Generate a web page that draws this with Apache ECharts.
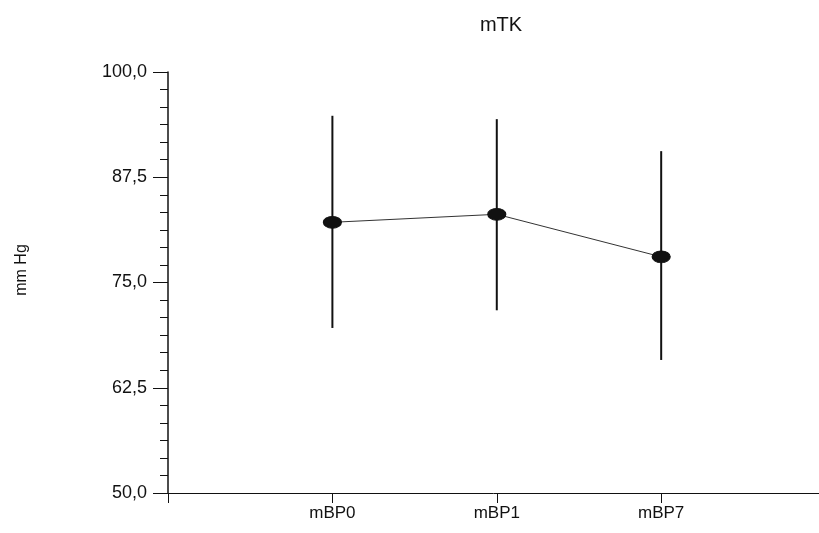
<!DOCTYPE html>
<html><head><meta charset="utf-8">
<script src="https://cdn.jsdelivr.net/npm/echarts@6/dist/echarts.min.js"></script>
<style>html,body{margin:0;padding:0;background:#fff}#c{width:819px;height:533px}</style>
</head><body><div id="c"></div>
<script>
var categories = ['mBP0', 'mBP1', 'mBP7'];
var positions = [1, 2, 3];
var means = [82.15, 83.1, 78.05];
var upper = [94.8, 94.4, 90.6];
var lower = [69.6, 71.7, 65.8];
var yTicks = [50, 62.5, 75, 87.5, 100];
var chartTitle = 'mTK';
var yName = 'mm Hg';

var chart = echarts.init(document.getElementById('c'));
var lineData = positions.map(function (p, i) { return [p, means[i]]; });
var errData = positions.map(function (p, i) { return [p, lower[i], upper[i]]; });
var sans = 'Liberation Sans';
chart.setOption({
  animation: false,
  backgroundColor: '#fff',
  title: { text: chartTitle, left: 496, top: 10, textAlign: 'center',
    textStyle: { fontFamily: sans, fontSize: 20, fontWeight: 'normal', color: '#111' } },
  graphic: [
    { type: 'text', x: 22, y: 270, rotation: Math.PI / 2,
      style: { text: yName, fontFamily: sans, fontSize: 16, fill: '#111', align: 'center', verticalAlign: 'middle' } }
  ],
  grid: { left: 168, right: 0, top: 72, bottom: 40 },
  xAxis: {
    type: 'value', min: 0, max: 3.96,
    axisLine: { lineStyle: { color: '#111', width: 1 } },
    axisTick: { length: 10, customValues: [0].concat(positions), lineStyle: { color: '#111' } },
    splitLine: { show: false },
    axisLabel: { fontFamily: sans, fontSize: 17, color: '#111', margin: 12, customValues: positions,
      formatter: function (v) { var i = positions.indexOf(v); return i >= 0 ? categories[i] : ''; } }
  },
  yAxis: {
    type: 'value', min: yTicks[0], max: yTicks[yTicks.length - 1], interval: 12.5,
    axisLine: { show: true, lineStyle: { color: '#111', width: 1.5 } },
    axisTick: { show: true, length: 15, lineStyle: { color: '#111' } },
    minorTick: { show: true, splitNumber: 6, length: 8, lineStyle: { color: '#111' } },
    splitLine: { show: false },
    axisLabel: { fontFamily: sans, fontSize: 18, color: '#111', margin: 21,
      formatter: function (v) { return v.toFixed(1).replace('.', ','); } }
  },
  series: [
    { type: 'custom', data: errData, z: 2,
      renderItem: function (params, api) {
        var a = api.coord([api.value(0), api.value(1)]);
        var b = api.coord([api.value(0), api.value(2)]);
        return { type: 'line', shape: { x1: a[0], y1: a[1], x2: b[0], y2: b[1] },
          style: { stroke: '#111', lineWidth: 2 } };
      } },
    { type: 'line', data: lineData, z: 3, symbol: 'circle', symbolSize: [18, 12],
      lineStyle: { color: '#333', width: 1 },
      itemStyle: { color: '#111', borderColor: '#111' } }
  ]
});
</script></body></html>
